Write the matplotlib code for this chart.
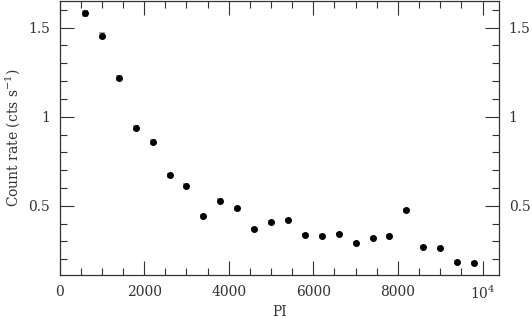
import matplotlib
matplotlib.use("Agg")
import matplotlib.pyplot as plt
from matplotlib.ticker import MultipleLocator, FuncFormatter

# PI bin centres and count rates
pi_bins = [600, 1000, 1400, 1800, 2200, 2600, 3000, 3400, 3800, 4200, 4600, 5000,
           5400, 5800, 6200, 6600, 7000, 7400, 7800, 8200, 8600, 9000, 9400, 9800]
rates = [1.581, 1.455, 1.217, 0.937, 0.858, 0.671, 0.612, 0.440, 0.528, 0.487, 0.371, 0.407,
         0.421, 0.335, 0.330, 0.343, 0.289, 0.320, 0.331, 0.475, 0.270, 0.261, 0.184, 0.178]
rate_err = [0.015, 0.014, 0.012, 0.011, 0.010, 0.009, 0.009, 0.008, 0.008, 0.008, 0.007, 0.007,
            0.007, 0.007, 0.007, 0.007, 0.006, 0.006, 0.006, 0.008, 0.006, 0.006, 0.005, 0.005]
x_tick_labels = {0: "0", 2000: "2000", 4000: "4000", 6000: "6000", 8000: "8000", 10000: "$10^4$"}

plt.rcParams['font.family'] = ['DejaVu Serif']
plt.rcParams['mathtext.fontset'] = 'dejavuserif'

fig = plt.figure(figsize=(5.32, 3.18), dpi=100)
ax = fig.add_axes([0.112, 0.135, 0.826, 0.862])

ax.errorbar(pi_bins, rates, yerr=rate_err, fmt='o', color='black', ms=4,
            ecolor='#999999', elinewidth=1.2, capsize=2.2, capthick=1.2)

ax.set_xlim(0, 10390)
ax.set_ylim(0.111, 1.65)

ax.xaxis.set_major_locator(MultipleLocator(2000))
ax.xaxis.set_minor_locator(MultipleLocator(500))
ax.yaxis.set_major_locator(MultipleLocator(0.5))
ax.yaxis.set_minor_locator(MultipleLocator(0.1))
ax.xaxis.set_major_formatter(FuncFormatter(lambda v, p: x_tick_labels.get(int(round(v)), "")))
ax.yaxis.set_major_formatter(FuncFormatter(lambda v, p: "%g" % round(v, 2)))

ax.tick_params(which='both', direction='in', top=True, right=True, labelright=True,
               colors='#333333', labelsize=10, width=0.8)
ax.tick_params(which='major', length=10, pad=7)
ax.tick_params(which='minor', length=5)
for s in ax.spines.values():
    s.set_color('#333333')
    s.set_linewidth(0.9)

ax.set_xlabel("PI", fontsize=10, color='#333333', labelpad=2)
ax.set_ylabel("Count rate (cts s$^{-1}$)", fontsize=10, color='#333333', labelpad=4)

fig.savefig("out.png", dpi=100)
